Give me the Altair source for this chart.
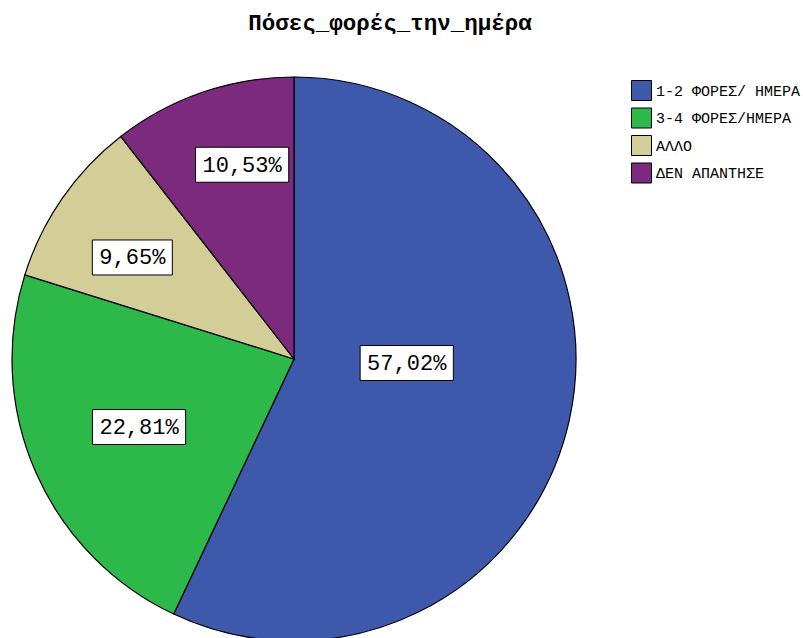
import altair as alt
import pandas as pd

# Answers to "how many times a day"
categories = ["1-2 ΦΟΡΕΣ/ ΗΜΕΡΑ", "3-4 ΦΟΡΕΣ/ΗΜΕΡΑ", "ΑΛΛΟ", "ΔΕΝ ΑΠΑΝΤΗΣΕ"]
percent = [57.02, 22.81, 9.65, 10.53]
colors = ["#3E58AC", "#2DB84A", "#D3CE97", "#7B2A7E"]

# layout: where each slice's label sits, as a fraction of the radius and
# a small angular nudge (degrees) away from the slice's middle angle
label_radius = [0.40, 0.60, 0.677, 0.713]
label_nudge = [-10.6, 0.0, -2.6, 4.0]

R = 282            # pie radius in px
CX, CY = 282, 282  # pie centre inside the plot area
FONT = "Liberation Mono"
LABEL_SIZE = 22

df = pd.DataFrame({
    "cat": categories,
    "pct": percent,
    "idx": list(range(len(categories))),
    "lr": label_radius,
    "nudge": label_nudge,
})

base = alt.Chart(df)

pie = base.mark_arc(outerRadius=R, stroke="black", strokeWidth=1.2).encode(
    theta=alt.Theta("pct:Q", stack=True),
    order=alt.Order("idx:Q"),
    color=alt.Color(
        "cat:N",
        scale=alt.Scale(domain=categories, range=colors),
        legend=alt.Legend(
            title=None,
            orient="none",
            legendX=619,
            legendY=3,
            symbolType="square",
            symbolSize=400,
            symbolStrokeColor="black",
            symbolStrokeWidth=1,
            symbolOpacity=1,
            labelFont=FONT,
            labelFontSize=15,
            labelColor="black",
            labelOffset=4,
            labelLimit=300,
            rowPadding=2.5,
            padding=0,
        ),
    ),
    x=alt.value(CX),
    y=alt.value(CY),
)

# label anchors around the middle angle of each slice
labels = (
    base.transform_window(cum="sum(pct)", sort=[alt.SortField("idx")])
    .transform_joinaggregate(total="sum(pct)")
    .transform_calculate(
        mid="2*PI*(datum.cum - datum.pct/2)/datum.total + datum.nudge*PI/180",
    )
    .transform_calculate(
        lx=f"{CX} + {R}*datum.lr*sin(datum.mid)",
        ly=f"{CY} - {R}*datum.lr*cos(datum.mid)",
        txt="replace(format(datum.pct, '.2f'), '.', ',') + '%'",
    )
    .transform_calculate(
        hw=f"length(datum.txt)*{LABEL_SIZE * 0.6}/2 + 7",
    )
    .transform_calculate(
        bx1="datum.lx - datum.hw",
        bx2="datum.lx + datum.hw",
        by1="datum.ly - 17.5",
        by2="datum.ly + 17.5",
    )
)

boxes = labels.mark_rect(fill="white", stroke="black", strokeWidth=1).encode(
    x=alt.X("bx1:Q", scale=None),
    x2="bx2:Q",
    y=alt.Y("by1:Q", scale=None),
    y2="by2:Q",
)

texts = labels.mark_text(font=FONT, fontSize=LABEL_SIZE, color="black").encode(
    x=alt.X("lx:Q", scale=None),
    y=alt.Y("ly:Q", scale=None),
    text="txt:N",
)

chart = (
    alt.layer(pie, boxes, texts)
    .properties(
        width=564,
        height=561,
        padding={"left": 12, "top": 77, "right": 227, "bottom": 0},
        autosize=alt.AutoSizeParams(type="none"),
        title=alt.Title(
            "Πόσες_φορές_την_ημέρα",
            font=FONT,
            fontSize=22.5,
            fontWeight="bold",
            color="black",
            anchor="middle",
            dx=96,
            offset=40,
        ),
    )
    .configure_view(stroke=None)
)

chart.save("out.html", embed_options={"renderer": "svg", "actions": False})
